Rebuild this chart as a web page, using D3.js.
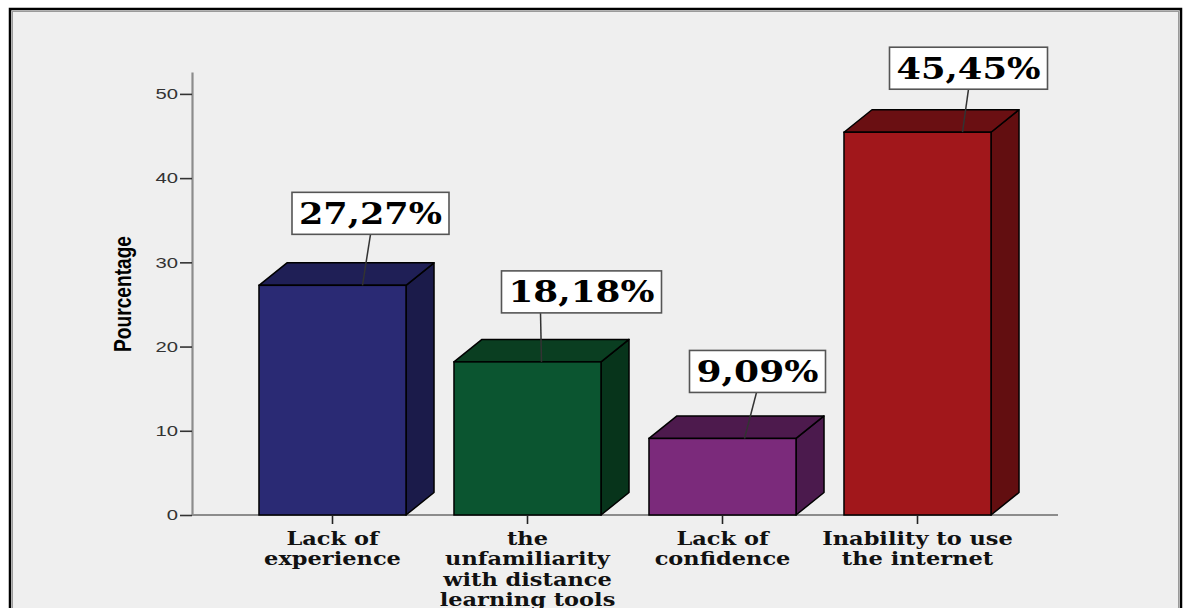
<!DOCTYPE html>
<html>
<head>
<meta charset="utf-8">
<script src="https://cdn.jsdelivr.net/npm/d3@7"></script>
<style>
  html, body { margin: 0; padding: 0; background: #ffffff; }
  svg { display: block; }
</style>
</head>
<body>
<svg id="chart" width="1187" height="608"></svg>
<script>
// Obstacles reported, share of respondents (%)
const categories = [
  ["Lack of", "experience"],
  ["the", "unfamiliarity", "with distance", "learning tools"],
  ["Lack of", "confidence"],
  ["Inability to use", "the internet"]
];
const percentages = [27.27, 18.18, 9.09, 45.45];
const valueLabels = ["27,27%", "18,18%", "9,09%", "45,45%"];
const yTicks = [0, 10, 20, 30, 40, 50];

// Face colours per bar: front, top, side
const frontColors = ["#2a2a74", "#0b5530", "#7b2a7b", "#a1171b"];
const topColors   = ["#1f1f56", "#0a3e21", "#4d1a4d", "#6a0f12"];
const sideColors  = ["#1b1b4a", "#07341b", "#4b1a4d", "#620e10"];

// Callout layout: box centre offset from bar centre, gap above bar top,
// box width, leader start offset from box centre, leader end offset from bar centre
const callouts = [
  { dx: 38,  gap: 51, w: 157, lineFrom: 0,   lineTo: 30 },
  { dx: 54,  gap: 49, w: 160, lineFrom: -41, lineTo: 14 },
  { dx: 35,  gap: 46, w: 136, lineFrom: -1,  lineTo: 22 },
  { dx: 51,  gap: 43, w: 158, lineFrom: 0,   lineTo: 45 }
];

// Text is drawn slightly widened horizontally
const stretchX = 1.25;

const svg = d3.select("#chart");

// Panel with frame
svg.append("rect")
  .attr("x", 10).attr("y", 9).attr("width", 1171).attr("height", 640)
  .attr("fill", "#efefef").attr("stroke", "#000").attr("stroke-width", 2.5);
svg.append("rect")
  .attr("x", 12.5).attr("y", 11.5).attr("width", 1166).attr("height", 640)
  .attr("fill", "none").attr("stroke", "#9a9a9a").attr("stroke-width", 1);

const x = d3.scaleBand()
  .domain(d3.range(categories.length))
  .range([192, 1058])
  .paddingInner(0.246)
  .paddingOuter(0.3435);

const y = d3.scaleLinear().domain([0, 52.6]).range([515, 72]);

const depthX = 28, depthY = 22.5;

// Y axis
const yAxis = svg.append("g")
  .attr("transform", "translate(192,0)")
  .call(d3.axisLeft(y).tickValues(yTicks).tickSize(12).tickPadding(2).tickSizeOuter(0));
yAxis.select(".domain").attr("stroke", "#8c8c8c").attr("stroke-width", 2.2);
yAxis.selectAll(".tick line").attr("stroke", "#333").attr("stroke-width", 1.6);
yAxis.selectAll(".tick text")
  .attr("fill", "#333")
  .attr("x", 0)
  .attr("transform", `translate(-14,0) scale(${stretchX + 0.1},1)`)
  .style("font-family", "'Liberation Sans', Arial, sans-serif")
  .style("font-size", "15px");

// Y title
svg.append("text")
  .attr("transform", `translate(131,294) scale(${stretchX},1) rotate(-90)`)
  .attr("text-anchor", "middle")
  .attr("textLength", 116)
  .attr("lengthAdjust", "spacingAndGlyphs")
  .style("font-family", "'Liberation Sans Narrow', 'Arial Narrow', 'Liberation Sans', sans-serif")
  .style("font-weight", "bold")
  .style("font-size", "18.5px")
  .attr("fill", "#000")
  .text("Pourcentage");

// X baseline
svg.append("line")
  .attr("x1", 192).attr("x2", 1058)
  .attr("y1", y(0)).attr("y2", y(0))
  .attr("stroke", "#8c8c8c").attr("stroke-width", 2);

// Bars drawn as 3D boxes
const bars = svg.append("g").selectAll("g")
  .data(percentages)
  .join("g");

bars.each(function (v, i) {
  const g = d3.select(this);
  const x0 = x(i), x1 = x(i) + x.bandwidth();
  const yt = y(v), yb = y(0);
  const path = d3.line();
  // side face
  g.append("path")
    .attr("d", path([[x1, yb], [x1, yt], [x1 + depthX, yt - depthY], [x1 + depthX, yb - depthY]]) + "Z")
    .attr("fill", sideColors[i]).attr("stroke", "#000").attr("stroke-width", 1.5)
    .attr("stroke-linejoin", "round");
  // top face
  g.append("path")
    .attr("d", path([[x0, yt], [x0 + depthX, yt - depthY], [x1 + depthX, yt - depthY], [x1, yt]]) + "Z")
    .attr("fill", topColors[i]).attr("stroke", "#000").attr("stroke-width", 1.5)
    .attr("stroke-linejoin", "round");
  // front face
  g.append("rect")
    .attr("x", x0).attr("y", yt)
    .attr("width", x.bandwidth()).attr("height", yb - yt)
    .attr("fill", frontColors[i]).attr("stroke", "#000").attr("stroke-width", 1.5);
});

// X ticks and category labels
const xt = svg.append("g");
categories.forEach((lines, i) => {
  const cx = x(i) + x.bandwidth() / 2;
  xt.append("line")
    .attr("x1", cx).attr("x2", cx)
    .attr("y1", y(0) + 1).attr("y2", y(0) + 9)
    .attr("stroke", "#222").attr("stroke-width", 1.6);
  const t = xt.append("text")
    .attr("transform", `translate(${cx},0) scale(${stretchX},1)`)
    .attr("text-anchor", "middle")
    .style("font-family", "'DejaVu Serif', serif")
    .style("font-weight", "bold")
    .style("font-size", "18px")
    .attr("fill", "#111");
  lines.forEach((ln, k) => {
    t.append("tspan").attr("x", 0).attr("y", 545 + k * 20.5).text(ln);
  });
});

// Value callouts
const boxH = 42;
percentages.forEach((v, i) => {
  const c = callouts[i];
  const cx = x(i) + x.bandwidth() / 2;
  const yt = y(v);
  const bc = cx + c.dx;
  const bBottom = yt - c.gap;
  svg.append("line")
    .attr("x1", bc + c.lineFrom).attr("y1", bBottom)
    .attr("x2", cx + c.lineTo).attr("y2", yt)
    .attr("stroke", "#333").attr("stroke-width", 1.5);
  svg.append("rect")
    .attr("x", bc - c.w / 2).attr("y", bBottom - boxH)
    .attr("width", c.w).attr("height", boxH)
    .attr("fill", "#fff").attr("stroke", "#555").attr("stroke-width", 1.6);
  svg.append("text")
    .attr("x", bc).attr("y", bBottom - boxH / 2 + 10.5)
    .attr("text-anchor", "middle")
    .attr("textLength", c.w - 14)
    .attr("lengthAdjust", "spacingAndGlyphs")
    .style("font-family", "'DejaVu Serif', serif")
    .style("font-weight", "bold")
    .style("font-size", "29px")
    .attr("fill", "#000")
    .text(valueLabels[i]);
});
</script>
</body>
</html>
